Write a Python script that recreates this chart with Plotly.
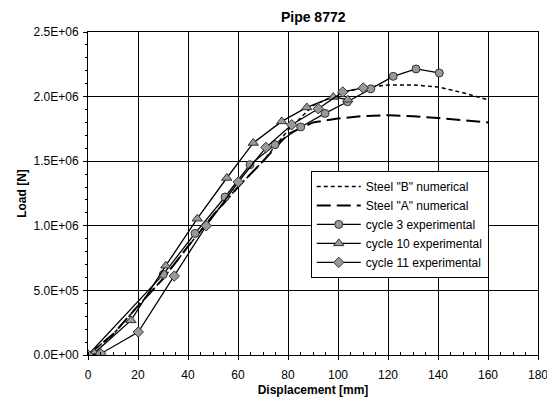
import plotly.graph_objects as go

# ---- data ----
num_x = [0, 10, 20, 30, 40, 50, 60, 70, 80, 90, 100, 110, 120, 130, 140, 150, 160]
steel_b_y = [0, 1.6e5, 3.8e5, 5.9e5, 8.4e5, 1.08e6, 1.3e6, 1.5e6, 1.74e6, 1.93e6, 2.02e6, 2.07e6, 2.09e6, 2.09e6, 2.075e6, 2.03e6, 1.975e6]
steel_a_y = [0, 1.6e5, 3.8e5, 5.9e5, 8.4e5, 1.08e6, 1.3e6, 1.5e6, 1.71e6, 1.80e6, 1.83e6, 1.85e6, 1.855e6, 1.848e6, 1.835e6, 1.82e6, 1.80e6]

c3_x = [0, 30.1, 42.8, 54.8, 64.8, 74.8, 85.1, 94.8, 103.8, 113.1, 122.1, 131.2, 140.5]
c3_y = [0, 6.24e5, 9.41e5, 1.223e6, 1.473e6, 1.628e6, 1.765e6, 1.87e6, 1.96e6, 2.06e6, 2.157e6, 2.214e6, 2.183e6]

c10_x = [0, 2.5, 17.2, 31.1, 43.7, 55.5, 66.1, 77.5, 87.5, 98.1, 103.9]
c10_y = [0, 1.5e4, 2.68e5, 6.91e5, 1.055e6, 1.37e6, 1.641e6, 1.808e6, 1.916e6, 1.997e6, 1.976e6]

c11_x = [0, 5.1, 20.1, 34.5, 47.3, 60.1, 71.2, 81.5, 92.1, 101.9, 110.1]
c11_y = [0, 1.0e4, 1.78e5, 6.11e5, 1.0e6, 1.339e6, 1.607e6, 1.782e6, 1.906e6, 2.036e6, 2.067e6]

x_ticks = [0, 20, 40, 60, 80, 100, 120, 140, 160, 180]
y_ticks = [0, 5e5, 1e6, 1.5e6, 2e6, 2.5e6]
y_tick_labels = ["0.0E+00", "5.0E+05", "1.0E+06", "1.5E+06", "2.0E+06", "2.5E+06"]

FONT = "Liberation Sans, Arial, sans-serif"
GRAY = "#999999"

fig = go.Figure()
fig.add_trace(go.Scatter(x=num_x, y=steel_b_y, mode="lines", name='Steel "B" numerical',
                         line=dict(color="black", width=1.5, dash="4px,3px")))
fig.add_trace(go.Scatter(x=num_x, y=steel_a_y, mode="lines", name='Steel "A" numerical',
                         line=dict(color="black", width=2, dash="14px,6px")))
fig.add_trace(go.Scatter(x=c3_x, y=c3_y, mode="lines+markers", name="cycle 3 experimental",
                         line=dict(color="black", width=1.3),
                         marker=dict(symbol="circle", size=8, color=GRAY, line=dict(color="#333333", width=1))))
fig.add_trace(go.Scatter(x=c10_x, y=c10_y, mode="lines+markers", name="cycle 10 experimental",
                         line=dict(color="black", width=1.3),
                         marker=dict(symbol="triangle-up", size=9, color=GRAY, line=dict(color="#333333", width=1))))
fig.add_trace(go.Scatter(x=c11_x, y=c11_y, mode="lines+markers", name="cycle 11 experimental",
                         line=dict(color="black", width=1.3),
                         marker=dict(symbol="diamond", size=8, color=GRAY, line=dict(color="#333333", width=1))))

fig.update_layout(
    width=547, height=393,
    margin=dict(l=80, r=17, t=24, b=46, autoexpand=False),
    paper_bgcolor="white", plot_bgcolor="white",
    font=dict(family=FONT, size=12, color="black"),
    title=dict(text="<b>Pipe 8772</b>", x=0.558, xanchor="center", y=0.976, yanchor="middle",
               font=dict(size=14, family=FONT)),
    showlegend=True,
    legend=dict(x=0.495, y=0.57, xanchor="left", yanchor="top",
                bgcolor="white", bordercolor="black", borderwidth=1, itemwidth=44,
                font=dict(size=12, family=FONT), tracegroupgap=0),
    xaxis=dict(range=[0, 180], tickvals=x_ticks, showgrid=True, gridcolor="black", gridwidth=1,
               showline=True, linecolor="black", linewidth=1, mirror=True, automargin=False,
               ticks="outside", ticklen=4, tickcolor="black", ticklabelstandoff=5,
               minor=dict(dtick=5, ticks="inside", ticklen=3, tickcolor="black", showgrid=False),
               zeroline=False, title=dict(text="<b>Displacement [mm]</b>", font=dict(size=12), standoff=4)),
    yaxis=dict(range=[0, 2.5e6], tickvals=y_ticks, ticktext=y_tick_labels, showgrid=True,
               gridcolor="black", gridwidth=1, automargin=False,
               showline=True, linecolor="black", linewidth=1, mirror=True,
               ticks="outside", ticklen=4, tickcolor="black", ticklabelstandoff=2,
               minor=dict(dtick=1e5, ticks="outside", ticklen=2, tickcolor="black", showgrid=False),
               zeroline=False, title=dict(text="<b>Load [N]</b>", font=dict(size=12), standoff=4)),
)

fig.write_html("out.html")
